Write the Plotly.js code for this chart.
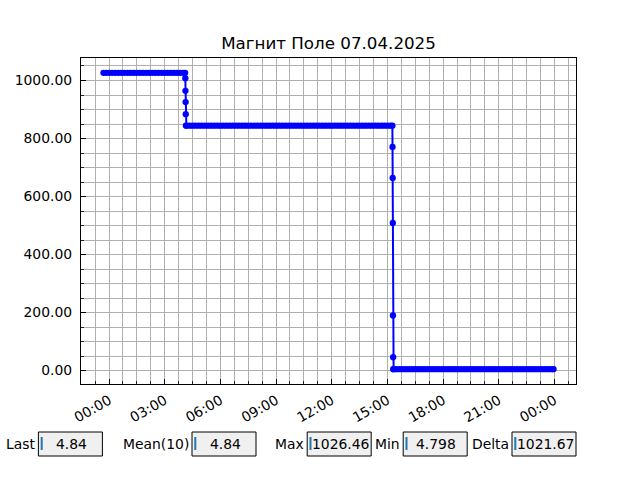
<!DOCTYPE html>
<html><head><meta charset="utf-8">
<script src="https://cdn.plot.ly/plotly-3.0.1.min.js"></script>
<style>html,body{margin:0;padding:0;background:#fff}#chart{width:640px;height:480px}</style>
</head><body><div id="chart"></div>
<script>
const chartTitle = "Магнит Поле 07.04.2025";

// Level 1 (~1026)
const highTimes = [
 "2025-04-06 23:42","2025-04-06 23:50",
 "2025-04-07 00:00","2025-04-07 00:10","2025-04-07 00:20","2025-04-07 00:30","2025-04-07 00:40","2025-04-07 00:50",
 "2025-04-07 01:00","2025-04-07 01:10","2025-04-07 01:20","2025-04-07 01:30","2025-04-07 01:40","2025-04-07 01:50",
 "2025-04-07 02:00","2025-04-07 02:10","2025-04-07 02:20","2025-04-07 02:30","2025-04-07 02:40","2025-04-07 02:50",
 "2025-04-07 03:00","2025-04-07 03:10","2025-04-07 03:20","2025-04-07 03:30","2025-04-07 03:40","2025-04-07 03:50",
 "2025-04-07 04:00","2025-04-07 04:06"
];
const highField = [
 1026.46,1026.44,
 1026.43,1026.45,1026.42,1026.44,1026.41,1026.43,
 1026.42,1026.40,1026.44,1026.43,1026.41,1026.42,
 1026.40,1026.43,1026.41,1026.42,1026.44,1026.40,
 1026.41,1026.43,1026.42,1026.40,1026.41,1026.42,
 1026.40,1026.41
];

// First drop
const drop1Times = ["2025-04-07 04:06:30","2025-04-07 04:07:00","2025-04-07 04:07:30","2025-04-07 04:08:00","2025-04-07 04:08:30"];
const drop1Field = [1008.0, 964.5, 925.5, 884.0, 844.6];

// Level 2 (~844)
const midTimes = [
 "2025-04-07 04:10","2025-04-07 04:20","2025-04-07 04:30","2025-04-07 04:40","2025-04-07 04:50",
 "2025-04-07 05:00","2025-04-07 05:10","2025-04-07 05:20","2025-04-07 05:30","2025-04-07 05:40","2025-04-07 05:50",
 "2025-04-07 06:00","2025-04-07 06:10","2025-04-07 06:20","2025-04-07 06:30","2025-04-07 06:40","2025-04-07 06:50",
 "2025-04-07 07:00","2025-04-07 07:10","2025-04-07 07:20","2025-04-07 07:30","2025-04-07 07:40","2025-04-07 07:50",
 "2025-04-07 08:00","2025-04-07 08:10","2025-04-07 08:20","2025-04-07 08:30","2025-04-07 08:40","2025-04-07 08:50",
 "2025-04-07 09:00","2025-04-07 09:10","2025-04-07 09:20","2025-04-07 09:30","2025-04-07 09:40","2025-04-07 09:50",
 "2025-04-07 10:00","2025-04-07 10:10","2025-04-07 10:20","2025-04-07 10:30","2025-04-07 10:40","2025-04-07 10:50",
 "2025-04-07 11:00","2025-04-07 11:10","2025-04-07 11:20","2025-04-07 11:30","2025-04-07 11:40","2025-04-07 11:50",
 "2025-04-07 12:00","2025-04-07 12:10","2025-04-07 12:20","2025-04-07 12:30","2025-04-07 12:40","2025-04-07 12:50",
 "2025-04-07 13:00","2025-04-07 13:10","2025-04-07 13:20","2025-04-07 13:30","2025-04-07 13:40","2025-04-07 13:50",
 "2025-04-07 14:00","2025-04-07 14:10","2025-04-07 14:20","2025-04-07 14:30","2025-04-07 14:40","2025-04-07 14:50",
 "2025-04-07 15:00","2025-04-07 15:10","2025-04-07 15:16"
];
const midField = [
 844.3,844.2,844.2,844.1,844.2,
 844.2,844.1,844.2,844.3,844.2,844.2,
 844.1,844.2,844.2,844.2,844.3,844.2,
 844.2,844.1,844.2,844.2,844.2,844.1,
 844.2,844.2,844.3,844.2,844.2,844.2,
 844.1,844.2,844.2,844.2,844.2,844.3,
 844.2,844.2,844.1,844.2,844.2,844.2,
 844.2,844.3,844.2,844.2,844.1,844.2,
 844.2,844.2,844.2,844.2,844.3,844.2,
 844.2,844.1,844.2,844.2,844.2,844.2,
 844.3,844.2,844.2,844.1,844.2,844.2,
 844.2,844.2,844.1
];

// Second drop
const drop2Times = ["2025-04-07 15:16:30","2025-04-07 15:17:00","2025-04-07 15:17:30","2025-04-07 15:18:00","2025-04-07 15:18:30","2025-04-07 15:19:00"];
const drop2Field = [771.0, 664.0, 509.0, 190.0, 46.0, 4.86];

// Level 3 (~4.8)
const lowTimes = [
 "2025-04-07 15:20","2025-04-07 15:30","2025-04-07 15:40","2025-04-07 15:50",
 "2025-04-07 16:00","2025-04-07 16:10","2025-04-07 16:20","2025-04-07 16:30","2025-04-07 16:40","2025-04-07 16:50",
 "2025-04-07 17:00","2025-04-07 17:10","2025-04-07 17:20","2025-04-07 17:30","2025-04-07 17:40","2025-04-07 17:50",
 "2025-04-07 18:00","2025-04-07 18:10","2025-04-07 18:20","2025-04-07 18:30","2025-04-07 18:40","2025-04-07 18:50",
 "2025-04-07 19:00","2025-04-07 19:10","2025-04-07 19:20","2025-04-07 19:30","2025-04-07 19:40","2025-04-07 19:50",
 "2025-04-07 20:00","2025-04-07 20:10","2025-04-07 20:20","2025-04-07 20:30","2025-04-07 20:40","2025-04-07 20:50",
 "2025-04-07 21:00","2025-04-07 21:10","2025-04-07 21:20","2025-04-07 21:30","2025-04-07 21:40","2025-04-07 21:50",
 "2025-04-07 22:00","2025-04-07 22:10","2025-04-07 22:20","2025-04-07 22:30","2025-04-07 22:40","2025-04-07 22:50",
 "2025-04-07 23:00","2025-04-07 23:10","2025-04-07 23:20","2025-04-07 23:30","2025-04-07 23:40","2025-04-07 23:50",
 "2025-04-07 23:57"
];
const lowField = [
 4.84,4.83,4.85,4.84,
 4.83,4.84,4.82,4.84,4.85,4.83,
 4.84,4.83,4.84,4.82,4.84,4.83,
 4.84,4.85,4.83,4.84,4.82,4.84,
 4.83,4.84,4.798,4.84,4.83,4.84,
 4.85,4.84,4.83,4.84,4.82,4.84,
 4.83,4.84,4.84,4.83,4.85,4.84,
 4.84,4.83,4.84,4.84,4.82,4.84,
 4.83,4.84,4.85,4.84,4.84,4.84,
 4.84
];

// Readout widgets
const widgetLabels = ["Last","Mean(10)","Max","Min","Delta"];
const widgetValues = ["4.84","4.84","1026.46","4.798","1021.67"];
const widgetBoxLeftPx = [38.4, 192, 307.2, 403.2, 512];

const times = [].concat(highTimes, drop1Times, midTimes, drop2Times, lowTimes);
const field = [].concat(highField, drop1Field, midField, drop2Field, lowField);

// axis ranges with 5% margins (matplotlib-like)
const toMs = s => Date.parse(s.replace(' ', 'T') + 'Z');
const toStr = ms => new Date(ms).toISOString().replace('T', ' ').replace('Z', '');
const tms = times.map(toMs);
const tLo = Math.min(...tms), tHi = Math.max(...tms), tSpan = tHi - tLo;
const yLo = Math.min(...field), yHi = Math.max(...field), ySpan = yHi - yLo;
const xRange = [toStr(tLo - 0.05 * tSpan), toStr(tHi + 0.05 * tSpan)];
const yRange = [yLo - 0.05 * ySpan, yHi + 0.05 * ySpan];

const W = 640, H = 480, ML = 81, MR = 64, MT = 58, MB = 96;
const PW = W - ML - MR, PH = H - MT - MB;
const px = x => (x - ML) / PW;
const py = y => (H - MB - y) / PH;

const shapes = [], annotations = [];
const boxW = 64, boxTop = 432, boxBot = 456;
widgetLabels.forEach((lab, i) => {
  const l = widgetBoxLeftPx[i];
  shapes.push({type:'rect', xref:'paper', yref:'paper', x0:px(l), x1:px(l + boxW), y0:py(boxBot), y1:py(boxTop),
    fillcolor:'#f0f0f0', line:{color:'#000', width:1}, layer:'above'});
  shapes.push({type:'line', xref:'paper', yref:'paper', x0:px(l + 3.3), x1:px(l + 3.3), y0:py(450), y1:py(437),
    line:{color:'#1f77b4', width:2}, layer:'above'});
  annotations.push({xref:'paper', yref:'paper', x:px(l - 1.5), y:py(444), xanchor:'right', yanchor:'middle',
    text:lab, showarrow:false, font:{size:13.9}});
  annotations.push({xref:'paper', yref:'paper', x:px(l + boxW / 2 + 1), y:py(444), xanchor:'center', yanchor:'middle',
    text:widgetValues[i], showarrow:false, font:{size:13.9}});
});

const grid = '#b0b0b0';
const trace = {
  type:'scatter', mode:'lines+markers', x:times, y:field,
  line:{color:'#0000ff', width:2}, marker:{color:'#0000ff', size:6.3}, hoverinfo:'skip'
};

const layout = {
  width:W, height:H, margin:{l:ML, r:MR, t:MT, b:MB, pad:0},
  paper_bgcolor:'#fff', plot_bgcolor:'#fff', showlegend:false, hovermode:false,
  font:{family:'DejaVu Sans, sans-serif', size:13.9, color:'#000'},
  title:{text:chartTitle, font:{size:16.7, color:'#000'}, x:0.5, xref:'paper', xanchor:'center',
    y:1 - 43 / H, yref:'container', yanchor:'middle'},
  xaxis:{type:'date', range:xRange, tick0:'2025-04-07 00:00', dtick:3*3600*1000, tickformat:'%H:%M',
    tickangle:-30, ticks:'inside', ticklen:5, tickwidth:1.1, tickcolor:'#000',
    showgrid:true, gridcolor:grid, gridwidth:1, showline:true, linecolor:'#000', linewidth:1.1, mirror:true,
    zeroline:false, ticklabelstandoff:2,
    minor:{tick0:'2025-04-07 00:00', dtick:45*60*1000, showgrid:true, gridcolor:grid, gridwidth:1,
      ticks:'inside', ticklen:3, tickwidth:0.8, tickcolor:'#000'}},
  yaxis:{range:yRange, tick0:0, dtick:200, tickformat:'.2f', ticks:'inside', ticklen:5, tickwidth:1.1, tickcolor:'#000',
    showgrid:true, gridcolor:grid, gridwidth:1, showline:true, linecolor:'#000', linewidth:1.1, mirror:true,
    zeroline:false, ticklabelstandoff:5,
    minor:{tick0:0, dtick:50, showgrid:true, gridcolor:grid, gridwidth:1,
      ticks:'inside', ticklen:3, tickwidth:0.8, tickcolor:'#000'}},
  shapes:shapes, annotations:annotations
};

Plotly.newPlot('chart', [trace], layout, {staticPlot:true, displayModeBar:false});
</script></body></html>
